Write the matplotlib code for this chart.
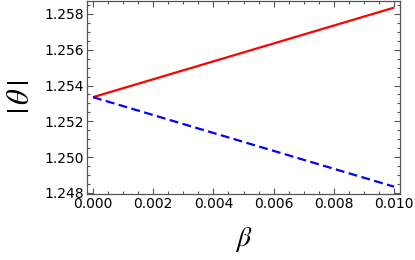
import matplotlib
matplotlib.use("Agg")
import matplotlib.pyplot as plt
from matplotlib.ticker import MultipleLocator, FormatStrFormatter

beta = [0.0, 0.01]
theta_plus = [1.25335, 1.25835]
theta_minus = [1.25335, 1.24835]

plt.rcParams["mathtext.fontset"] = "stix"

fig = plt.figure(figsize=(4.15, 2.6), dpi=100)
ax = fig.add_axes([87/415, 1 - 194/260, (400-87)/415, (194-0.5)/260])

ax.plot(beta, theta_plus, color="#ff0000", lw=1.6, solid_capstyle="butt")
ax.plot(beta, theta_minus, color="#0000ff", lw=1.6, ls=(0, (4, 2)))

ax.set_xlim(-0.0002, 0.0102)
ax.set_ylim(1.24794, 1.25875)
ax.xaxis.set_major_locator(MultipleLocator(0.002))
ax.xaxis.set_minor_locator(MultipleLocator(0.0005))
ax.yaxis.set_major_locator(MultipleLocator(0.002))
ax.yaxis.set_minor_locator(MultipleLocator(0.0005))
ax.xaxis.set_major_formatter(FormatStrFormatter("%.3f"))
ax.yaxis.set_major_formatter(FormatStrFormatter("%.3f"))

ax.tick_params(which="both", direction="in", top=True, right=True, color="#555555", width=0.8)
ax.tick_params(which="major", length=4, labelsize=10, pad=2)
ax.tick_params(which="minor", length=2)
for s in ax.spines.values():
    s.set_color("#555555")
    s.set_linewidth(0.9)

ax.set_xlabel(r"$\beta$", fontsize=20, labelpad=10)
ax.set_ylabel(r"$|\,\theta\,|$", fontsize=22, labelpad=7)

fig.savefig("out.png", dpi=100)
